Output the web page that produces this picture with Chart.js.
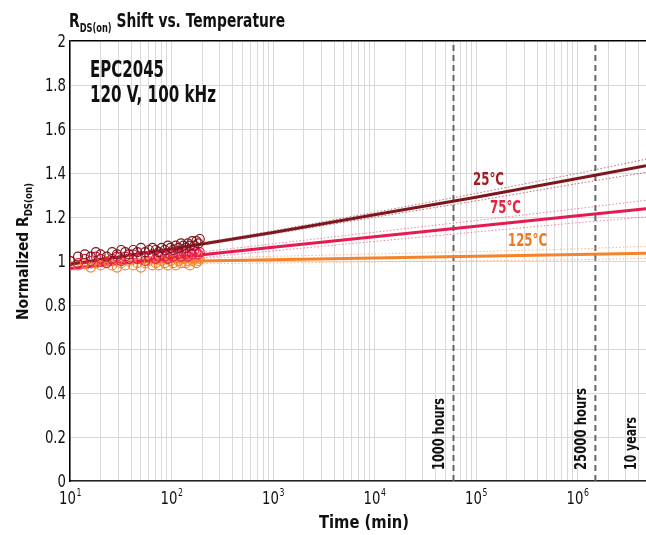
<!DOCTYPE html>
<html>
<head>
<meta charset="utf-8">
<script src="https://cdn.jsdelivr.net/npm/chart.js@4.4.1/dist/chart.umd.min.js"></script>
<style>
  html, body { margin: 0; padding: 0; background: #fff; }
  #wrap { width: 646px; height: 535px; }
</style>
</head>
<body>
<div id="wrap"><canvas id="shiftChart" width="646" height="535"></canvas></div>
<script>
const FONT = '"DejaVu Sans", sans-serif';
const SQUEEZE = 0.78; // narrow the face horizontally for a condensed look

// measured samples, time in minutes
const sampleTimes = [10, 12, 14, 16, 18, 20, 23, 26, 29, 32, 35, 38, 42, 46, 50, 55, 60, 65, 70,
  75, 80, 86, 92, 98, 104, 110, 117, 124, 131, 138, 145, 152, 160, 168, 176, 184, 190];
const r25 = [1.00, 1.02, 1.03, 1.02, 1.04, 1.03, 1.02, 1.04, 1.03, 1.05, 1.04, 1.03, 1.05, 1.04,
  1.06, 1.04, 1.05, 1.06, 1.05, 1.04, 1.06, 1.05, 1.07, 1.06, 1.05, 1.07, 1.06, 1.08, 1.07, 1.06,
  1.08, 1.07, 1.09, 1.07, 1.09, 1.08, 1.10];
const r75 = [1.00, 0.99, 1.01, 1.00, 1.02, 1.01, 0.99, 1.01, 1.02, 1.00, 1.02, 1.01, 1.03, 1.01,
  1.02, 1.00, 1.02, 1.03, 1.01, 1.02, 1.03, 1.02, 1.01, 1.03, 1.02, 1.04, 1.03, 1.02, 1.04, 1.03,
  1.02, 1.04, 1.03, 1.05, 1.04, 1.03, 1.04];
const r125 = [1.00, 0.98, 0.99, 0.97, 0.99, 0.98, 1.00, 0.98, 0.97, 0.99, 0.98, 1.00, 0.98, 0.99,
  0.97, 0.99, 1.00, 0.98, 0.99, 0.98, 1.00, 0.99, 0.98, 1.00, 0.99, 0.98, 1.00, 0.99, 1.01, 0.99,
  1.00, 0.98, 1.00, 1.01, 0.99, 1.00, 1.01];

// fitted trend and its confidence band, read per decade out to the end of the axis
const fitTimes = [10, 100, 1e3, 1e4, 1e5, 1e6, 4.73e6];
const fit25 = [0.985, 1.055, 1.130, 1.210, 1.290, 1.375, 1.433];
const fit25Hi = [0.988, 1.059, 1.137, 1.221, 1.307, 1.398, 1.463];
const fit25Lo = [0.982, 1.051, 1.123, 1.199, 1.273, 1.352, 1.403];
const fit75 = [0.966, 1.014, 1.062, 1.110, 1.158, 1.206, 1.238];
const fit75Hi = [0.974, 1.026, 1.078, 1.131, 1.184, 1.238, 1.276];
const fit75Lo = [0.958, 1.002, 1.046, 1.089, 1.132, 1.174, 1.200];
const fit125 = [0.991, 0.998, 1.006, 1.014, 1.022, 1.030, 1.035];
const fit125Hi = [1.001, 1.010, 1.021, 1.032, 1.043, 1.055, 1.067];
const fit125Lo = [0.981, 0.986, 0.991, 0.996, 1.001, 1.006, 1.012];

// lifetime markers (min)
const markerTimes = [6e4, 1.5e6, 5.256e6];
const markerLabels = ['1000 hours', '25000 hours', '10 years'];

const xMin = 10, xMax = 4.73e6;
const yTicks = [0, 0.2, 0.4, 0.6, 0.8, 1, 1.2, 1.4, 1.6, 1.8, 2];
const yTickLabels = ['0', '0.2', '0.4', '0.6', '0.8', '1', '1.2', '1.4', '1.6', '1.8', '2'];

const C25 = '#7d161c', C75 = '#e31b4f', C125 = '#f5832c';

const pts = (xs, ys) => xs.map((x, i) => ({ x, y: ys[i] }));

const samples = (data, color) => ({
  data: pts(sampleTimes, data), showLine: false,
  pointRadius: 4.5, pointBorderWidth: 1.2, pointBorderColor: color,
  pointBackgroundColor: 'rgba(0,0,0,0)'
});
const fitLine = (data, color) => ({
  data: pts(fitTimes, data), showLine: true, pointRadius: 0,
  borderColor: color, borderWidth: 3
});
const band = (data, color) => ({
  data: pts(fitTimes, data), showLine: true, pointRadius: 0,
  borderColor: color, borderWidth: 1, borderDash: [1.5, 2]
});
const marker = (t) => ({
  data: [{ x: t, y: 0 }, { x: t, y: 2 }], showLine: true, pointRadius: 0,
  borderColor: '#666', borderWidth: 2, borderDash: [6, 4]
});

// grid lines on every 1..9 x 10^n
const gridTimes = [];
for (let e = 1; e <= 6; e++) {
  for (let m = 1; m <= 9; m++) {
    const v = m * Math.pow(10, e);
    if (v <= xMax) gridTimes.push(v);
  }
}

function width(ctx, text, size, bold, sx) {
  ctx.font = `${bold ? 'bold ' : ''}${size}px ${FONT}`;
  return ctx.measureText(text).width * (sx || SQUEEZE);
}

// draw squeezed text; opts.w fits the text to that width. returns drawn width
function say(ctx, text, x, y, size, opts = {}) {
  ctx.font = `${opts.bold ? 'bold ' : ''}${size}px ${FONT}`;
  const raw = ctx.measureText(text).width;
  const sx = opts.w ? opts.w / raw : (opts.sx || SQUEEZE);
  const w = raw * sx;
  let x0 = x;
  if (opts.align === 'center') x0 = x - w / 2;
  else if (opts.align === 'right') x0 = x - w;
  ctx.save();
  ctx.translate(x0, y);
  ctx.scale(sx, 1);
  ctx.textAlign = 'left';
  ctx.fillText(text, 0, 0);
  ctx.restore();
  return w;
}

// bold text with a lowered subscript: [main, sub, rest], squeezed to total width w
function subText(ctx, parts, x, y, size, w) {
  const small = Math.round(size * 0.6);
  const raw = width(ctx, parts[0], size, true, 1) + width(ctx, parts[1], small, true, 1) +
    width(ctx, parts[2], size, true, 1);
  const sx = w / raw;
  x += say(ctx, parts[0], x, y, size, { bold: true, sx });
  x += say(ctx, parts[1], x, y + size * 0.25, small, { bold: true, sx });
  say(ctx, parts[2], x, y, size, { bold: true, sx });
}

const annotate = {
  id: 'annotate',
  afterDraw(chart) {
    const ctx = chart.ctx;
    const xs = chart.scales.x, ys = chart.scales.y;
    ctx.save();
    ctx.fillStyle = '#111';
    ctx.textBaseline = 'alphabetic';

    subText(ctx, ['R', 'DS(on)', ' Shift vs. Temperature'], 69, 27, 20, 216);

    say(ctx, 'EPC2045', 90, 77, 23, { bold: true, w: 74 });
    say(ctx, '120 V, 100 kHz', 90, 102, 23, { bold: true, w: 126 });

    // y tick labels
    yTicks.forEach((v, i) => {
      say(ctx, yTickLabels[i], 66, ys.getPixelForValue(v) + 6, 17, { align: 'right' });
    });

    // decade labels on the time axis
    for (let e = 1; e <= 6; e++) {
      const cx = xs.getPixelForValue(Math.pow(10, e));
      const wb = width(ctx, '10', 17, false), we = width(ctx, String(e), 10, false);
      const x0 = cx - (wb + we) / 2;
      say(ctx, '10', x0, 504, 17);
      say(ctx, String(e), x0 + wb + 0.5, 496, 10);
    }

    say(ctx, 'Time (min)', 364, 528, 17, { bold: true, align: 'center', w: 90 });

    // y axis title
    ctx.save();
    ctx.translate(28, 320);
    ctx.rotate(-Math.PI / 2);
    subText(ctx, ['Normalized R', 'DS(on)', ''], 0, 0, 16, 137);
    ctx.restore();

    // lifetime marker labels, just left of each line
    const markerW = [72, 82, 53];
    markerTimes.forEach((t, i) => {
      const px = Math.min(xs.getPixelForValue(t), 645) - 9;
      ctx.save();
      ctx.translate(px, 470);
      ctx.rotate(-Math.PI / 2);
      say(ctx, markerLabels[i], 0, 0, 16, { bold: true, w: markerW[i] });
      ctx.restore();
    });

    // temperature tags
    ctx.fillStyle = '#a11c24';
    say(ctx, '25°C', 473, 185, 18, { bold: true, w: 31 });
    ctx.fillStyle = '#e8203f';
    say(ctx, '75°C', 490, 213, 18, { bold: true, w: 31 });
    ctx.fillStyle = '#ea7a24';
    say(ctx, '125°C', 508, 246, 18, { bold: true, w: 39 });
    ctx.restore();
  }
};

new Chart(document.getElementById('shiftChart'), {
  type: 'scatter',
  data: {
    datasets: [
      samples(r25, C25),
      samples(r75, C75),
      samples(r125, C125),
      band(fit25Hi, 'rgba(160,60,70,0.75)'),
      band(fit25Lo, 'rgba(160,60,70,0.75)'),
      band(fit75Hi, 'rgba(235,90,130,0.75)'),
      band(fit75Lo, 'rgba(235,90,130,0.75)'),
      band(fit125Hi, 'rgba(248,160,90,0.75)'),
      band(fit125Lo, 'rgba(248,160,90,0.75)'),
      fitLine(fit25, C25),
      fitLine(fit75, C75),
      fitLine(fit125, C125),
      marker(markerTimes[0]),
      marker(markerTimes[1]),
      marker(markerTimes[2])
    ]
  },
  options: {
    responsive: false,
    animation: false,
    devicePixelRatio: 1,
    layout: { autoPadding: false, padding: { top: 41, right: 0, left: 0, bottom: 0 } },
    plugins: { legend: { display: false }, tooltip: { enabled: false } },
    scales: {
      x: {
        type: 'logarithmic',
        min: xMin,
        max: xMax,
        afterBuildTicks: (s) => { s.ticks = gridTimes.map(v => ({ value: v })); },
        afterFit: (s) => { s.height = 54; },
        ticks: { display: false },
        grid: { color: '#d9d9d9', lineWidth: 1, drawTicks: false },
        border: { color: '#222', width: 1.5 }
      },
      y: {
        min: 0,
        max: 2,
        afterBuildTicks: (s) => { s.ticks = yTicks.map(v => ({ value: v })); },
        afterFit: (s) => { s.width = 70; },
        ticks: { display: false },
        grid: {
          color: (c) => (c.tick && c.tick.value === 2 ? '#000' : '#d9d9d9'),
          lineWidth: (c) => (c.tick && c.tick.value === 2 ? 1.5 : 1),
          drawTicks: false
        },
        border: { color: '#000', width: 1.5 }
      }
    }
  },
  plugins: [annotate]
});
</script>
</body>
</html>
